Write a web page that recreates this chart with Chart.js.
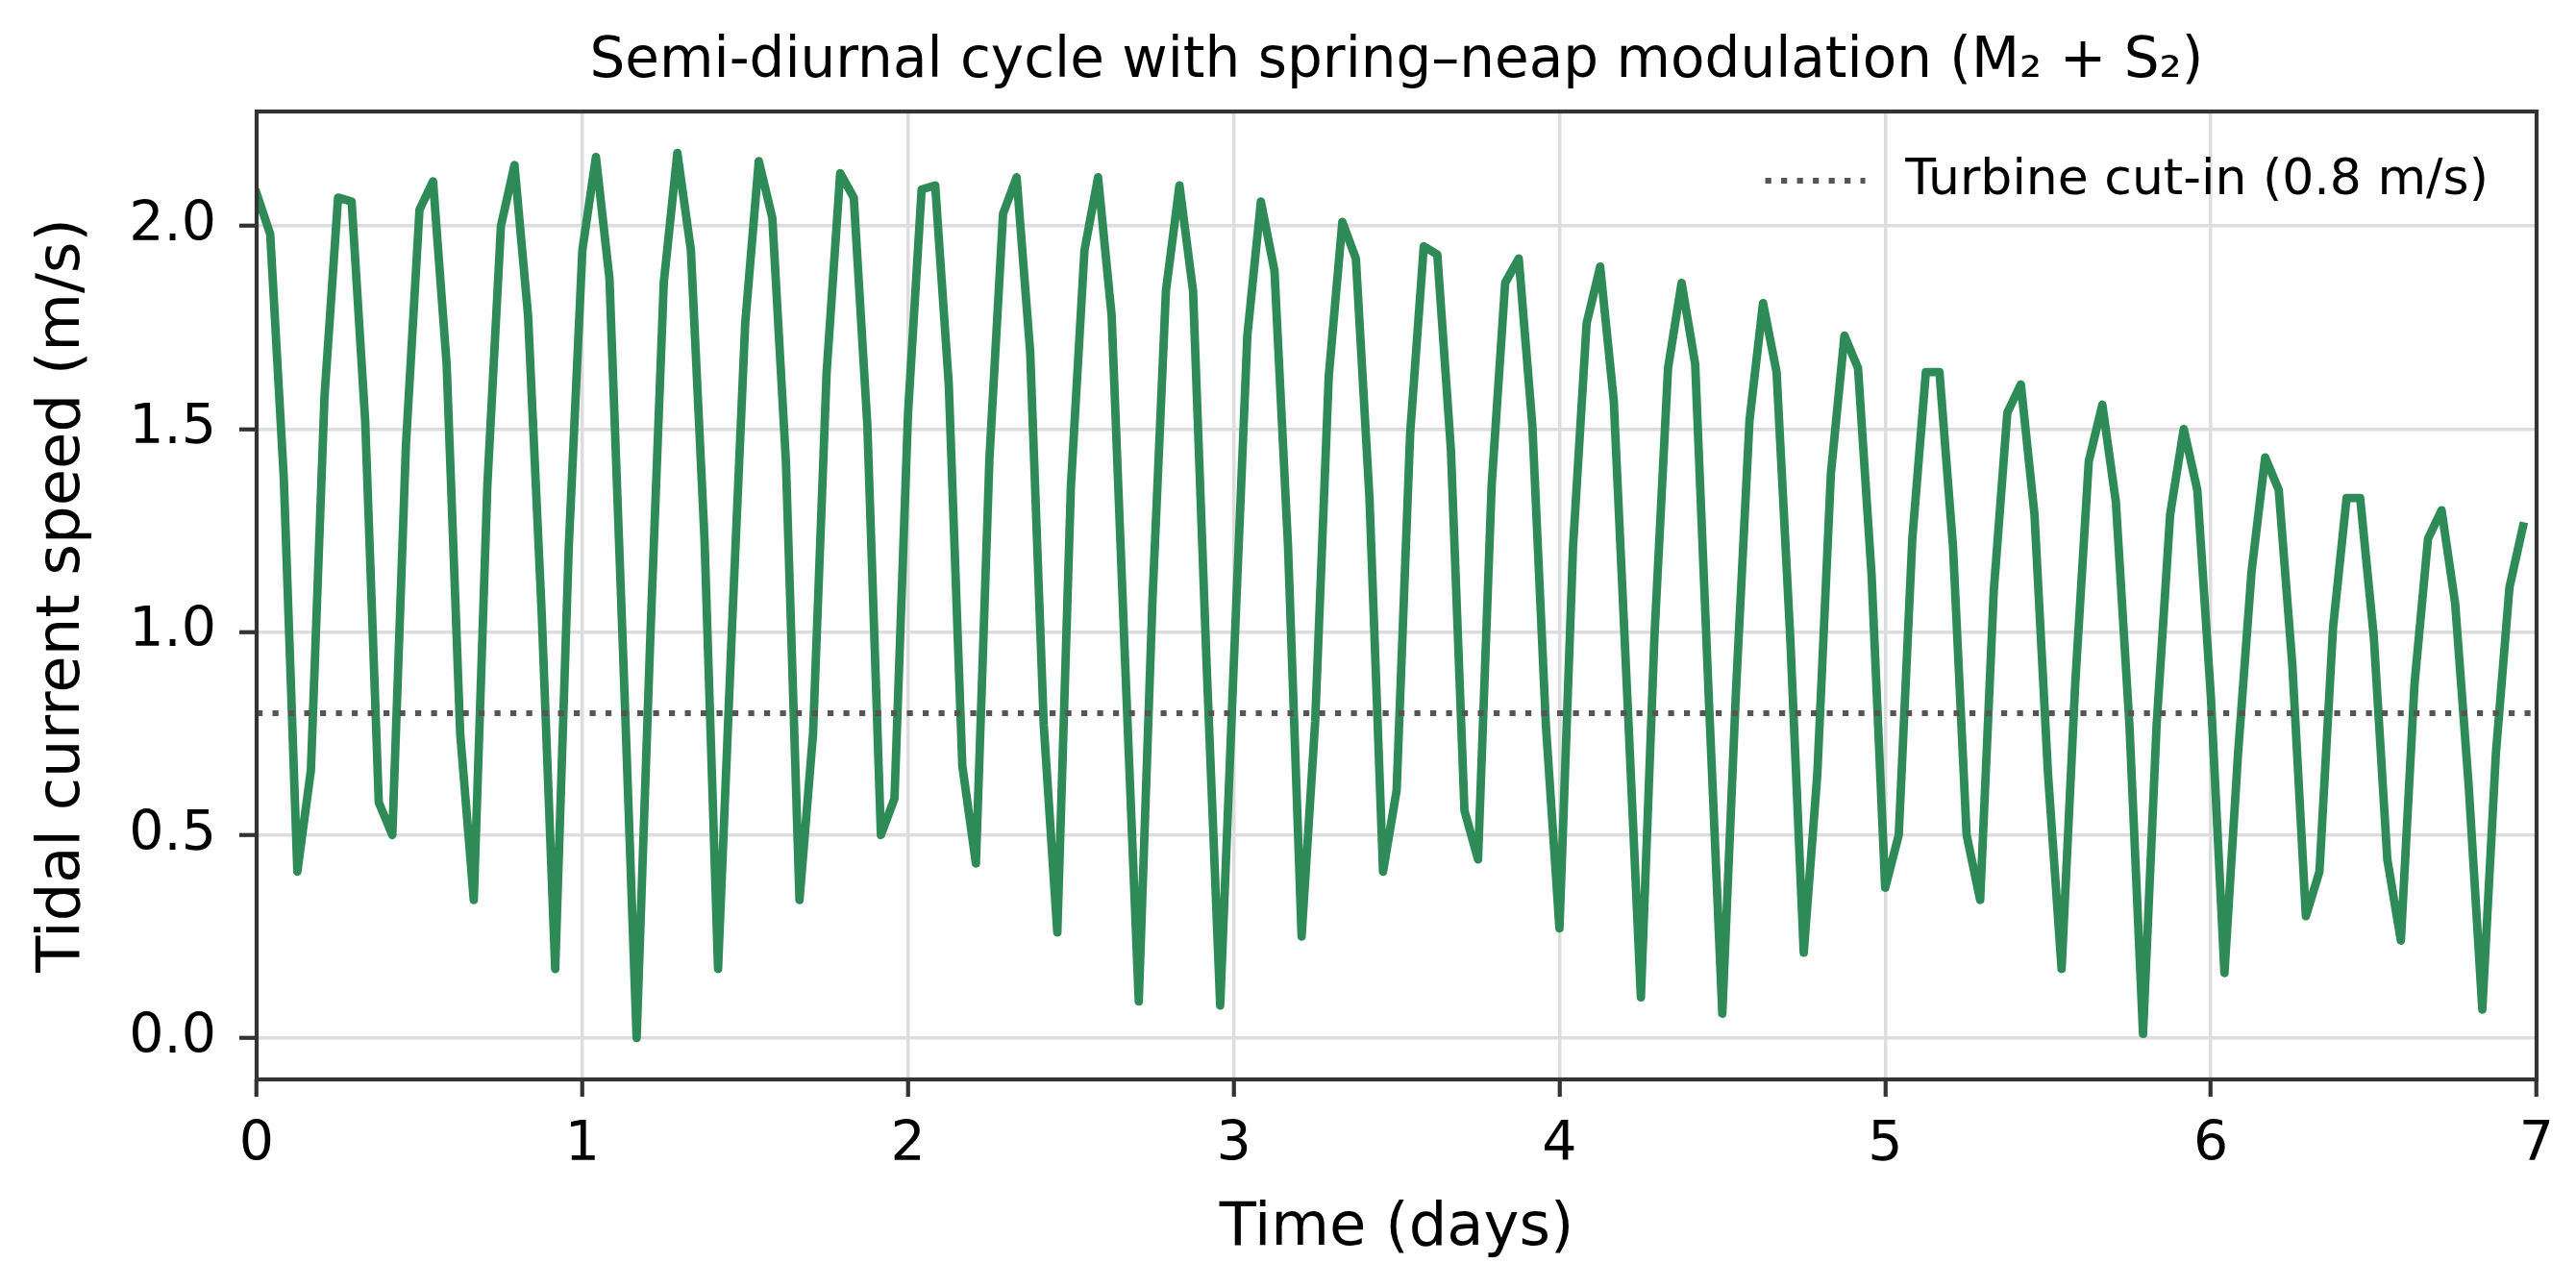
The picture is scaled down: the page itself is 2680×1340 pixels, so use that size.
<!DOCTYPE html>
<html>
<head>
<meta charset="utf-8">
<script src="https://cdn.jsdelivr.net/npm/chart.js@4.4.1/dist/chart.umd.min.js"></script>
<style>
  html, body { margin: 0; padding: 0; background: #ffffff; }
  #wrap { width: 2680px; height: 1340px; position: relative; }
  canvas { display: block; }
</style>
</head>
<body>
<div id="wrap"><canvas id="c" width="2680" height="1340"></canvas></div>
<script>
// ---------------- data ----------------
const titleText = 'Semi-diurnal cycle with spring\u2013neap modulation (M\u2082 + S\u2082)';
const xAxisLabel = 'Time (days)';
const yAxisLabel = 'Tidal current speed (m/s)';
const legendLabel = 'Turbine cut-in (0.8 m/s)';

const sampleIntervalHours = 1;           // hourly samples
const cutInSpeed = 0.8;                  // m/s
const xTickValues = [0, 1, 2, 3, 4, 5, 6, 7];
const yTickValues = [0.0, 0.5, 1.0, 1.5, 2.0];

// tidal current speed (m/s), one value per hour, 168 h
const speeds = [
  2.08, 1.98, 1.38, 0.41, 0.66, 1.58, 2.07, 2.06, 1.52, 0.58, 0.50, 1.46,
  2.04, 2.11, 1.66, 0.75, 0.34, 1.36, 2.00, 2.15, 1.78, 1.05, 0.17, 1.21,
  1.94, 2.17, 1.87, 0.95, 0.00, 0.98, 1.86, 2.18, 1.94, 1.23, 0.17, 0.99,
  1.76, 2.16, 2.02, 1.42, 0.34, 0.75, 1.64, 2.13, 2.07, 1.51, 0.50, 0.59,
  1.54, 2.09, 2.10, 1.61, 0.67, 0.43, 1.43, 2.03, 2.12, 1.69, 0.77, 0.26,
  1.36, 1.94, 2.12, 1.78, 0.92, 0.09, 1.07, 1.84, 2.10, 1.84, 0.92, 0.08,
  0.92, 1.73, 2.06, 1.89, 1.21, 0.25, 0.78, 1.63, 2.01, 1.92, 1.33, 0.41,
  0.61, 1.49, 1.95, 1.93, 1.45, 0.56, 0.44, 1.36, 1.86, 1.92, 1.51, 0.77,
  0.27, 1.21, 1.76, 1.90, 1.57, 0.84, 0.10, 0.99, 1.65, 1.86, 1.66, 0.84,
  0.06, 0.85, 1.52, 1.81, 1.64, 0.99, 0.21, 0.65, 1.39, 1.73, 1.65, 1.14,
  0.37, 0.50, 1.23, 1.64, 1.64, 1.21, 0.50, 0.34, 1.10, 1.54, 1.61, 1.29,
  0.65, 0.17, 0.87, 1.42, 1.56, 1.32, 0.77, 0.01, 0.77, 1.29, 1.50, 1.35,
  0.84, 0.16, 0.70, 1.15, 1.43, 1.35, 0.92, 0.30, 0.41, 1.01, 1.33, 1.33,
  0.99, 0.44, 0.24, 0.87, 1.23, 1.30, 1.07, 0.62, 0.07, 0.70, 1.11, 1.26
];

// sample times in days
const timeDays = speeds.map((_, i) => i * sampleIntervalHours / 24);

// ---------------- styling ----------------
const FONT = 'DejaVu Sans';
const X_MIN = 0, X_MAX = 7;
const Y_MIN = -0.102, Y_MAX = 2.282;
const SPINE = '#333333';
const GRID = '#dddddd';

const framePlugin = {
  id: 'frame',
  afterDatasetsDraw(chart) {
    const { ctx, chartArea: a } = chart;
    ctx.save();
    ctx.strokeStyle = SPINE;
    ctx.lineWidth = 4.2;
    ctx.strokeRect(a.left, a.top, a.right - a.left, a.bottom - a.top);
    ctx.restore();
  }
};

const legendPlugin = {
  id: 'insideLegend',
  afterDraw(chart) {
    const { ctx, chartArea: a } = chart;
    const ds = chart.data.datasets[0];
    ctx.save();
    ctx.font = '52px "' + FONT + '"';
    ctx.textBaseline = 'middle';
    ctx.textAlign = 'left';
    const w = ctx.measureText(ds.label).width;
    const textX = a.right - 50 - w;
    const y = a.top + 72;
    const x2 = textX - 41.6;
    const x1 = x2 - 104;
    ctx.strokeStyle = ds.borderColor;
    ctx.lineWidth = ds.borderWidth;
    ctx.setLineDash(ds.borderDash);
    ctx.lineCap = 'butt';
    ctx.beginPath();
    ctx.moveTo(x1, y);
    ctx.lineTo(x2, y);
    ctx.stroke();
    ctx.setLineDash([]);
    ctx.fillStyle = '#000000';
    ctx.fillText(ds.label, textX, y);
    ctx.restore();
  }
};

new Chart(document.getElementById('c'), {
  type: 'line',
  data: {
    datasets: [
      {
        label: legendLabel,
        data: [{ x: X_MIN, y: cutInSpeed }, { x: X_MAX, y: cutInSpeed }],
        borderColor: '#555555',
        borderWidth: 6.2,
        borderDash: [6.2, 10.3],
        borderCapStyle: 'butt',
        pointRadius: 0,
        fill: false,
        order: 0
      },
      {
        label: 'Tidal current speed',
        data: timeDays.map((t, i) => ({ x: t, y: speeds[i] })),
        borderColor: '#2e8b57',
        borderWidth: 8.8,
        borderJoinStyle: 'round',
        borderCapStyle: 'square',
        pointRadius: 0,
        tension: 0,
        fill: false,
        order: 1
      }
    ]
  },
  options: {
    responsive: false,
    animation: false,
    devicePixelRatio: 1,
    layout: { padding: { left: 0, right: 41, top: 0, bottom: 0 } },
    plugins: {
      legend: { display: false },
      tooltip: { enabled: false },
      title: {
        display: true,
        fullSize: false,
        text: titleText,
        color: '#000000',
        font: { family: FONT, size: 58, weight: 'normal', lineHeight: 1.2 },
        padding: { top: 30, bottom: 16.4 }
      }
    },
    scales: {
      x: {
        type: 'linear',
        min: X_MIN,
        max: X_MAX,
        afterBuildTicks: (s) => { s.ticks = xTickValues.map(v => ({ value: v })); },
        afterFit: (s) => { s.height = 217; },
        ticks: {
          autoSkip: false,
          maxRotation: 0,
          color: '#000000',
          padding: 17,
          font: { family: FONT, size: 57 },
          callback: (v) => String(v)
        },
        grid: {
          color: GRID,
          lineWidth: 3.5,
          drawTicks: true,
          tickLength: 18,
          tickColor: SPINE,
          tickWidth: 4.2
        },
        border: { display: false },
        title: {
          display: true,
          text: xAxisLabel,
          color: '#000000',
          font: { family: FONT, size: 62.4, lineHeight: 1.2 },
          padding: { top: 0, bottom: 24 }
        }
      },
      y: {
        type: 'linear',
        min: Y_MIN,
        max: Y_MAX,
        afterBuildTicks: (s) => { s.ticks = yTickValues.map(v => ({ value: v })); },
        afterFit: (s) => { s.width = 267; },
        ticks: {
          autoSkip: false,
          color: '#000000',
          padding: 24,
          font: { family: FONT, size: 57 },
          callback: (v) => Number(v).toFixed(1)
        },
        grid: {
          color: GRID,
          lineWidth: 3.5,
          drawTicks: true,
          tickLength: 18,
          tickColor: SPINE,
          tickWidth: 4.2
        },
        border: { display: false },
        title: {
          display: true,
          text: yAxisLabel,
          color: '#000000',
          font: { family: FONT, size: 62.4, lineHeight: 1.2 },
          padding: { top: 28, bottom: 0 }
        }
      }
    }
  },
  plugins: [framePlugin, legendPlugin]
});
</script>
</body>
</html>
